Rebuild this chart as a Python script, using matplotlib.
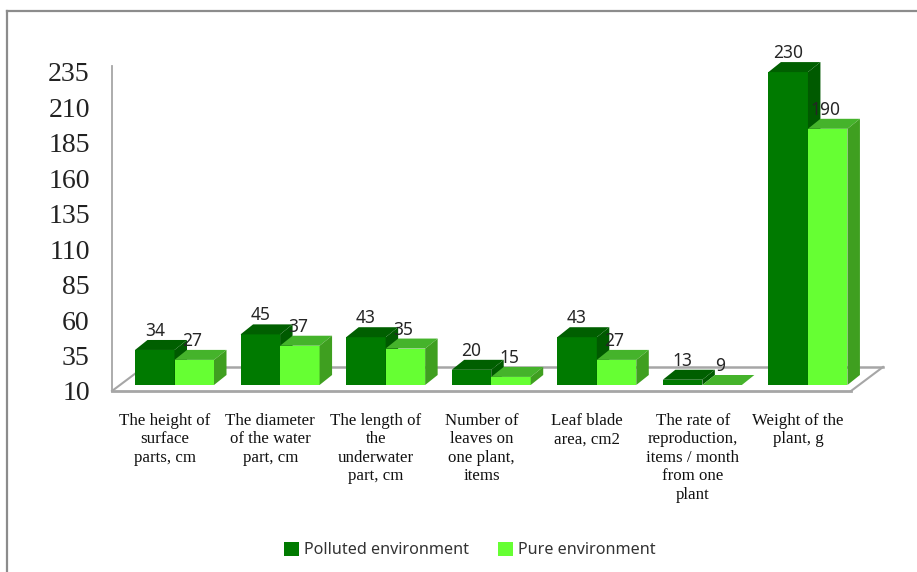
import matplotlib
matplotlib.use('Agg')
import matplotlib.pyplot as plt
from matplotlib.lines import Line2D
from matplotlib.patches import Polygon, Patch

# data
categories = ['The height of\nsurface\nparts, cm',
              'The diameter\nof the water\npart, cm',
              'The length of\nthe\nunderwater\npart, cm',
              'Number of\nleaves on\none plant,\nitems',
              'Leaf blade\narea, cm2',
              'The rate of\nreproduction,\nitems / month\nfrom one\nplant',
              'Weight of the\nplant, g']
polluted = [34, 45, 43, 20, 43, 13, 230]
pure = [27, 37, 35, 15, 27, 9, 190]
y_ticks = [10, 35, 60, 85, 110, 135, 160, 185, 210, 235]

W, H = 917, 572
fig = plt.figure(figsize=(W / 100, H / 100), dpi=100)

# axes placed in pixels: x 112..851, value 10 at y=391
px_per_val = 319 / 225
top_px = 66
ax = fig.add_axes([112 / W, 1 - 391 / H, (851 - 112) / W, (391 - top_px) / H])
ax.set_xlim(0, 7)
ax.set_ylim(10, 10 + (391 - top_px) / px_per_val)
px_per_cat = (851 - 112) / 7


def dx(px):
    return px / px_per_cat


def dy(px):
    return px / px_per_val


grey = '#a6a6a6'
for s in ['top', 'right']:
    ax.spines[s].set_visible(False)
ax.spines['left'].set_color(grey)
ax.spines['left'].set_linewidth(1.3)
ax.spines['bottom'].set_color(grey)
ax.spines['bottom'].set_linewidth(2)

# floor of the 3d box
back_y = 10 + dy(24)
ax.plot([0, dx(32)], [10, back_y], color=grey, lw=1.5, clip_on=False, zorder=1)
ax.plot([dx(32), 7 + dx(32)], [back_y, back_y], color=grey, lw=1.8, clip_on=False, zorder=1)
ax.plot([7, 7 + dx(32)], [10, back_y], color=grey, lw=1.5, clip_on=False, zorder=1)

bar_w = dx(39.5)
depth_x = dx(12.5)
depth_y = dy(10)
base = 10 + dy(6)
lift = dy(7)
x_off = dx(23)


def box(x, val, front, top, side, z):
    h = max(val + lift - base, 0)
    ax.bar(x, h, bottom=base, width=bar_w, align='edge', color=front,
           edgecolor='none', clip_on=False, zorder=z)
    t = base + h
    ax.add_patch(Polygon([(x, t), (x + bar_w, t), (x + bar_w + depth_x, t + depth_y), (x + depth_x, t + depth_y)],
                         closed=True, facecolor=top, edgecolor='none', clip_on=False, zorder=z))
    ax.add_patch(Polygon([(x + bar_w, base), (x + bar_w + depth_x, base + depth_y),
                          (x + bar_w + depth_x, t + depth_y), (x + bar_w, t)],
                         closed=True, facecolor=side, edgecolor='none', clip_on=False, zorder=z))
    return t + depth_y


for i in range(len(categories)):
    x1 = i + x_off
    x2 = x1 + bar_w
    z = 2 + i
    t1 = box(x1, polluted[i], '#007a00', '#005f00', '#005a00', z)
    t2 = box(x2, pure[i], '#66ff33', '#45b32b', '#3f9f20', z + 0.5)
    ax.text(x1 + bar_w / 2, t1 + dy(9), str(polluted[i]), ha='center', va='center',
            family='Noto Sans', fontsize=12.5, color='#262626', zorder=20)
    ax.text(x2 + bar_w / 2 - dx(2), t2 + dy(9), str(pure[i]), ha='center', va='center',
            family='Noto Sans', fontsize=12.5, color='#262626', zorder=20)

ax.set_yticks(y_ticks)
ax.set_yticklabels([str(v) for v in y_ticks], family='Liberation Serif', fontsize=20, color='#222222')
ax.tick_params(axis='y', length=0, pad=16)
ax.set_xticks([i + 0.5 for i in range(len(categories))])
ax.set_xticklabels(categories, family='Liberation Serif', fontsize=12.2, color='#111111',
                   linespacing=1.22, ha='center', va='top')
ax.tick_params(axis='x', length=0, pad=15.5)

handles = [Patch(facecolor='#007a00', label='Polluted environment'),
           Patch(facecolor='#66ff33', label='Pure environment')]
fig.legend(handles=handles, loc='center', bbox_to_anchor=(470 / W, 1 - 550 / H), ncols=2, frameon=False,
           prop={'family': 'Noto Sans', 'size': 11.6}, labelcolor='#333333',
           handlelength=0.95, handleheight=0.95, handletextpad=0.3, columnspacing=1.8)

# outer frame, only left and top survive in the picture
fig.add_artist(Line2D([7 / W, 7 / W], [0, 1 - 11 / H], color='#8c8c8c', lw=1.6))
fig.add_artist(Line2D([7 / W, 1], [1 - 11 / H, 1 - 11 / H], color='#8c8c8c', lw=1.6))

fig.savefig('out.png', dpi=100)
